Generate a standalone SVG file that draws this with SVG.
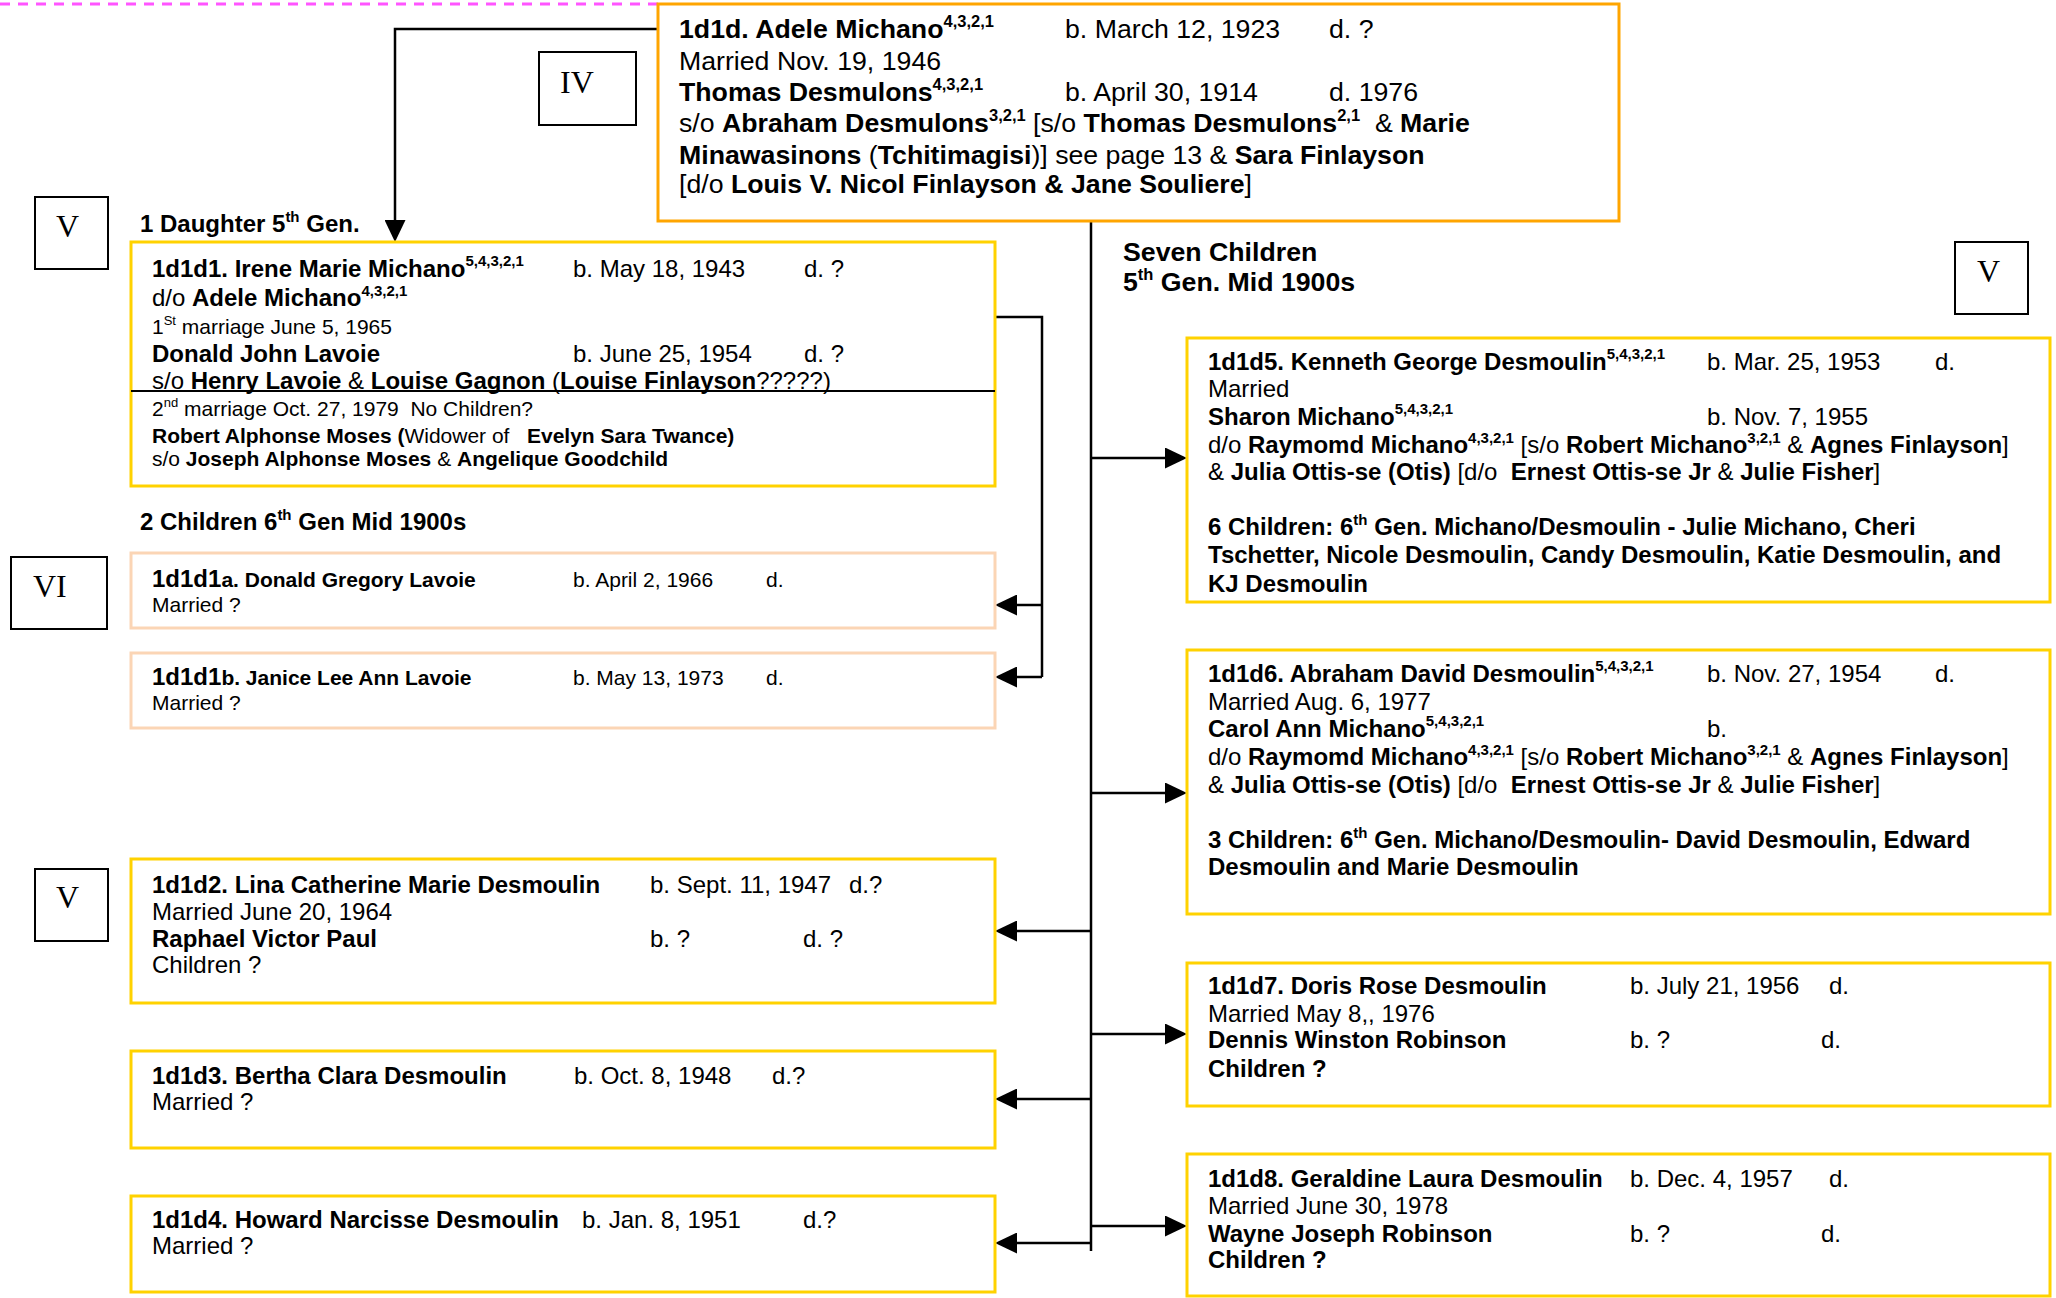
<svg xmlns="http://www.w3.org/2000/svg" width="2056" height="1298" viewBox="0 0 2056 1298">
<style>
text{font-family:"Liberation Sans",Arial,Helvetica,sans-serif;fill:#000;white-space:pre}
.b{font-weight:bold}
.f26{font-size:26.7px}
.f24{font-size:24px}
.f21{font-size:21px}
.s16{font-size:16.5px}
.s15{font-size:15px}
.s13{font-size:13px}
.rom{font-family:"Liberation Serif","Times New Roman",serif;font-size:32px}
.rbox{fill:#fff;stroke:#000;stroke-width:2}
.ybox{fill:#fff;stroke:#FFD200;stroke-width:3}
.obox{fill:#fff;stroke:#FFA500;stroke-width:3}
.pbox{fill:#fff;stroke:#FBD5B5;stroke-width:3}
.ln{fill:none;stroke:#000;stroke-width:2.5}
</style>
<defs>
<marker id="ah" viewBox="0 0 22 21" markerWidth="22" markerHeight="21" refX="2" refY="10.5" orient="auto" markerUnits="userSpaceOnUse">
<path d="M0,0 L22,10.5 L0,21 z" fill="#000"/>
</marker>
<clipPath id="kjclip"><rect x="1187" y="560" width="863" height="33"/></clipPath>
</defs>
<rect width="2056" height="1298" fill="#fff"/>
<line x1="0" y1="4" x2="658" y2="4" stroke="#FF55FF" stroke-width="3" stroke-dasharray="10 8"/>

<g id="connectors">
<path class="ln" d="M658,29 H395 V222" stroke-width="3" marker-end="url(#ah)"/>
<path class="ln" d="M1091,221 V1251" stroke-width="3"/>
<path class="ln" d="M1091,458 H1167" marker-end="url(#ah)"/>
<path class="ln" d="M1091,793 H1167" marker-end="url(#ah)"/>
<path class="ln" d="M1091,1034 H1167" marker-end="url(#ah)"/>
<path class="ln" d="M1091,1226 H1167" marker-end="url(#ah)"/>
<path class="ln" d="M1091,931 H1015" marker-end="url(#ah)"/>
<path class="ln" d="M1091,1099 H1015" marker-end="url(#ah)"/>
<path class="ln" d="M1091,1243 H1015" marker-end="url(#ah)"/>
<path class="ln" d="M995,317 H1042 V677"/>
<path class="ln" d="M1042,605 H1015" marker-end="url(#ah)"/>
<path class="ln" d="M1042,677 H1015" marker-end="url(#ah)"/>
</g>

<g id="labels">
<g id="roman-IV"><rect class="rbox" x="539" y="52" width="97" height="73"/><text class="rom" x="560" y="93">IV</text></g>
<g id="roman-V1"><rect class="rbox" x="35" y="197" width="73" height="72"/><text class="rom" x="56" y="237">V</text></g>
<g id="roman-V2"><rect class="rbox" x="1955" y="242" width="73" height="72"/><text class="rom" x="1977" y="282">V</text></g>
<g id="roman-VI"><rect class="rbox" x="11" y="557" width="96" height="72"/><text class="rom" x="33" y="597">VI</text></g>
<g id="roman-V3"><rect class="rbox" x="35" y="869" width="73" height="72"/><text class="rom" x="56" y="908">V</text></g>
<text class="b f24" x="140" y="232">1 Daughter 5<tspan class="s15" dy="-10">th</tspan><tspan dy="10"> Gen.</tspan></text>
<text class="b f24" x="140" y="530">2 Children 6<tspan class="s15" dy="-10">th</tspan><tspan dy="10"> Gen Mid 1900s</tspan></text>
<text class="b f26" x="1123" y="261">Seven Children</text>
<text class="b f26" x="1123" y="291">5<tspan class="s16" dy="-11">th</tspan><tspan dy="11"> Gen. Mid 1900s</tspan></text>
</g>

<g id="n1d1d">
<rect class="obox" x="658" y="4" width="961" height="217"/>
<text class="f26" x="679" y="38"><tspan class="b">1d1d. Adele Michano</tspan><tspan class="b s16" dy="-11">4,3,2,1</tspan></text>
<text class="f26" x="1065" y="38">b. March 12, 1923</text>
<text class="f26" x="1329" y="38">d. ?</text>
<text class="f26" x="679" y="70">Married Nov. 19, 1946</text>
<text class="f26" x="679" y="101"><tspan class="b">Thomas Desmulons</tspan><tspan class="b s16" dy="-11">4,3,2,1</tspan></text>
<text class="f26" x="1065" y="101">b. April 30, 1914</text>
<text class="f26" x="1329" y="101">d. 1976</text>
<text class="f26" x="679" y="132">s/o <tspan class="b">Abraham Desmulons</tspan><tspan class="b s16" dy="-11">3,2,1</tspan><tspan dy="11"> [s/o </tspan><tspan class="b">Thomas Desmulons</tspan><tspan class="b s16" dy="-11">2,1</tspan><tspan dy="11">  &amp; </tspan><tspan class="b">Marie</tspan></text>
<text class="f26" x="679" y="164"><tspan class="b">Minawasinons</tspan> (<tspan class="b">Tchitimagisi</tspan>)] see page 13 &amp; <tspan class="b">Sara Finlayson</tspan></text>
<text class="f26" x="679" y="193">[d/o <tspan class="b">Louis V. Nicol Finlayson &amp; Jane Souliere</tspan>]</text>
</g>

<g id="n1d1d1">
<rect class="ybox" x="131" y="242" width="864" height="244"/>
<text class="f24" x="152" y="277"><tspan class="b">1d1d1. Irene Marie Michano</tspan><tspan class="b s15" dy="-11">5,4,3,2,1</tspan></text>
<text class="f24" x="573" y="277">b. May 18, 1943</text>
<text class="f24" x="804" y="277">d. ?</text>
<text class="f24" x="152" y="306">d/o <tspan class="b">Adele Michano</tspan><tspan class="b s15" dy="-10">4,3,2,1</tspan></text>
<text class="f21" x="152" y="334">1<tspan class="s13" dy="-9">St</tspan><tspan dy="9"> marriage June 5, 1965</tspan></text>
<text class="f24 b" x="152" y="362">Donald John Lavoie</text>
<text class="f24" x="573" y="362">b. June 25, 1954</text>
<text class="f24" x="804" y="362">d. ?</text>
<text class="f24" x="152" y="389">s/o <tspan class="b">Henry Lavoie</tspan> &amp; <tspan class="b">Louise Gagnon</tspan> (<tspan class="b">Louise Finlayson</tspan>?????)</text>
<line x1="131" y1="391" x2="995" y2="391" stroke="#000" stroke-width="2"/>
<text class="f21" x="152" y="416">2<tspan class="s13" dy="-9">nd</tspan><tspan dy="9"> marriage Oct. 27, 1979  No Children?</tspan></text>
<text class="f21" x="152" y="443"><tspan class="b">Robert Alphonse Moses (</tspan>Widower of   <tspan class="b">Evelyn Sara Twance)</tspan></text>
<text class="f21" x="152" y="466">s/o <tspan class="b">Joseph Alphonse Moses</tspan> &amp; <tspan class="b">Angelique Goodchild</tspan></text>
</g>

<g id="n1d1d1a">
<rect class="pbox" x="131" y="553" width="864" height="75"/>
<text class="b" x="152" y="587"><tspan class="f24">1d1d1</tspan><tspan class="f21">a. Donald Gregory Lavoie</tspan></text>
<text class="f21" x="573" y="587">b. April 2, 1966</text>
<text class="f21" x="766" y="587">d.</text>
<text class="f21" x="152" y="612">Married ?</text>
</g>

<g id="n1d1d1b">
<rect class="pbox" x="131" y="653" width="864" height="75"/>
<text class="b" x="152" y="685"><tspan class="f24">1d1d1</tspan><tspan class="f21">b. Janice Lee Ann Lavoie</tspan></text>
<text class="f21" x="573" y="685">b. May 13, 1973</text>
<text class="f21" x="766" y="685">d.</text>
<text class="f21" x="152" y="710">Married ?</text>
</g>

<g id="n1d1d2">
<rect class="ybox" x="131" y="859" width="864" height="144"/>
<text class="f24 b" x="152" y="893">1d1d2. Lina Catherine Marie Desmoulin</text>
<text class="f24" x="650" y="893">b. Sept. 11, 1947</text>
<text class="f24" x="849" y="893">d.?</text>
<text class="f24" x="152" y="920">Married June 20, 1964</text>
<text class="f24 b" x="152" y="947">Raphael Victor Paul</text>
<text class="f24" x="650" y="947">b. ?</text>
<text class="f24" x="803" y="947">d. ?</text>
<text class="f24" x="152" y="973">Children ?</text>
</g>

<g id="n1d1d3">
<rect class="ybox" x="131" y="1051" width="864" height="97"/>
<text class="f24 b" x="152" y="1084">1d1d3. Bertha Clara Desmoulin</text>
<text class="f24" x="574" y="1084">b. Oct. 8, 1948</text>
<text class="f24" x="772" y="1084">d.?</text>
<text class="f24" x="152" y="1110">Married ?</text>
</g>

<g id="n1d1d4">
<rect class="ybox" x="131" y="1196" width="864" height="96"/>
<text class="f24 b" x="152" y="1228">1d1d4. Howard Narcisse Desmoulin</text>
<text class="f24" x="582" y="1228">b. Jan. 8, 1951</text>
<text class="f24" x="803" y="1228">d.?</text>
<text class="f24" x="152" y="1254">Married ?</text>
</g>

<g id="n1d1d5">
<rect class="ybox" x="1187" y="338" width="863" height="264"/>
<text class="f24" x="1208" y="370"><tspan class="b">1d1d5. Kenneth George Desmoulin</tspan><tspan class="b s15" dy="-11">5,4,3,2,1</tspan></text>
<text class="f24" x="1707" y="370">b. Mar. 25, 1953</text>
<text class="f24" x="1935" y="370">d.</text>
<text class="f24" x="1208" y="397">Married</text>
<text class="f24" x="1208" y="425"><tspan class="b">Sharon Michano</tspan><tspan class="b s15" dy="-11">5,4,3,2,1</tspan></text>
<text class="f24" x="1707" y="425">b. Nov. 7, 1955</text>
<text class="f24" x="1208" y="453">d/o <tspan class="b">Raymomd Michano</tspan><tspan class="b s15" dy="-10">4,3,2,1</tspan><tspan dy="10"> [s/o </tspan><tspan class="b">Robert Michano</tspan><tspan class="b s15" dy="-10">3,2,1</tspan><tspan dy="10"> &amp; </tspan><tspan class="b">Agnes Finlayson</tspan>]</text>
<text class="f24" x="1208" y="480">&amp; <tspan class="b">Julia Ottis-se (Otis)</tspan> [d/o  <tspan class="b">Ernest Ottis-se Jr</tspan> &amp; <tspan class="b">Julie Fisher</tspan>]</text>
<text class="f24 b" x="1208" y="535">6 Children: 6<tspan class="s15" dy="-10">th</tspan><tspan dy="10"> Gen. Michano/Desmoulin - Julie Michano, Cheri</tspan></text>
<text class="f24 b" x="1208" y="563">Tschetter, Nicole Desmoulin, Candy Desmoulin, Katie Desmoulin, and</text>
<text class="f24 b" x="1208" y="592" clip-path="url(#kjclip)">KJ Desmoulin</text>
</g>

<g id="n1d1d6">
<rect class="ybox" x="1187" y="650" width="863" height="264"/>
<text class="f24" x="1208" y="682"><tspan class="b">1d1d6. Abraham David Desmoulin</tspan><tspan class="b s15" dy="-11">5,4,3,2,1</tspan></text>
<text class="f24" x="1707" y="682">b. Nov. 27, 1954</text>
<text class="f24" x="1935" y="682">d.</text>
<text class="f24" x="1208" y="710">Married Aug. 6, 1977</text>
<text class="f24" x="1208" y="737"><tspan class="b">Carol Ann Michano</tspan><tspan class="b s15" dy="-11">5,4,3,2,1</tspan></text>
<text class="f24" x="1707" y="737">b.</text>
<text class="f24" x="1208" y="765">d/o <tspan class="b">Raymomd Michano</tspan><tspan class="b s15" dy="-10">4,3,2,1</tspan><tspan dy="10"> [s/o </tspan><tspan class="b">Robert Michano</tspan><tspan class="b s15" dy="-10">3,2,1</tspan><tspan dy="10"> &amp; </tspan><tspan class="b">Agnes Finlayson</tspan>]</text>
<text class="f24" x="1208" y="793">&amp; <tspan class="b">Julia Ottis-se (Otis)</tspan> [d/o  <tspan class="b">Ernest Ottis-se Jr</tspan> &amp; <tspan class="b">Julie Fisher</tspan>]</text>
<text class="f24 b" x="1208" y="848">3 Children: 6<tspan class="s15" dy="-10">th</tspan><tspan dy="10"> Gen. Michano/Desmoulin- David Desmoulin, Edward</tspan></text>
<text class="f24 b" x="1208" y="875">Desmoulin and Marie Desmoulin</text>
</g>

<g id="n1d1d7">
<rect class="ybox" x="1187" y="963" width="863" height="143"/>
<text class="f24 b" x="1208" y="994">1d1d7. Doris Rose Desmoulin</text>
<text class="f24" x="1630" y="994">b. July 21, 1956</text>
<text class="f24" x="1829" y="994">d.</text>
<text class="f24" x="1208" y="1022">Married May 8,, 1976</text>
<text class="f24 b" x="1208" y="1048">Dennis Winston Robinson</text>
<text class="f24" x="1630" y="1048">b. ?</text>
<text class="f24" x="1821" y="1048">d.</text>
<text class="f24 b" x="1208" y="1077">Children ?</text>
</g>

<g id="n1d1d8">
<rect class="ybox" x="1187" y="1154" width="863" height="142"/>
<text class="f24 b" x="1208" y="1187">1d1d8. Geraldine Laura Desmoulin</text>
<text class="f24" x="1630" y="1187">b. Dec. 4, 1957</text>
<text class="f24" x="1829" y="1187">d.</text>
<text class="f24" x="1208" y="1214">Married June 30, 1978</text>
<text class="f24 b" x="1208" y="1242">Wayne Joseph Robinson</text>
<text class="f24" x="1630" y="1242">b. ?</text>
<text class="f24" x="1821" y="1242">d.</text>
<text class="f24 b" x="1208" y="1268">Children ?</text>
</g>
</svg>
